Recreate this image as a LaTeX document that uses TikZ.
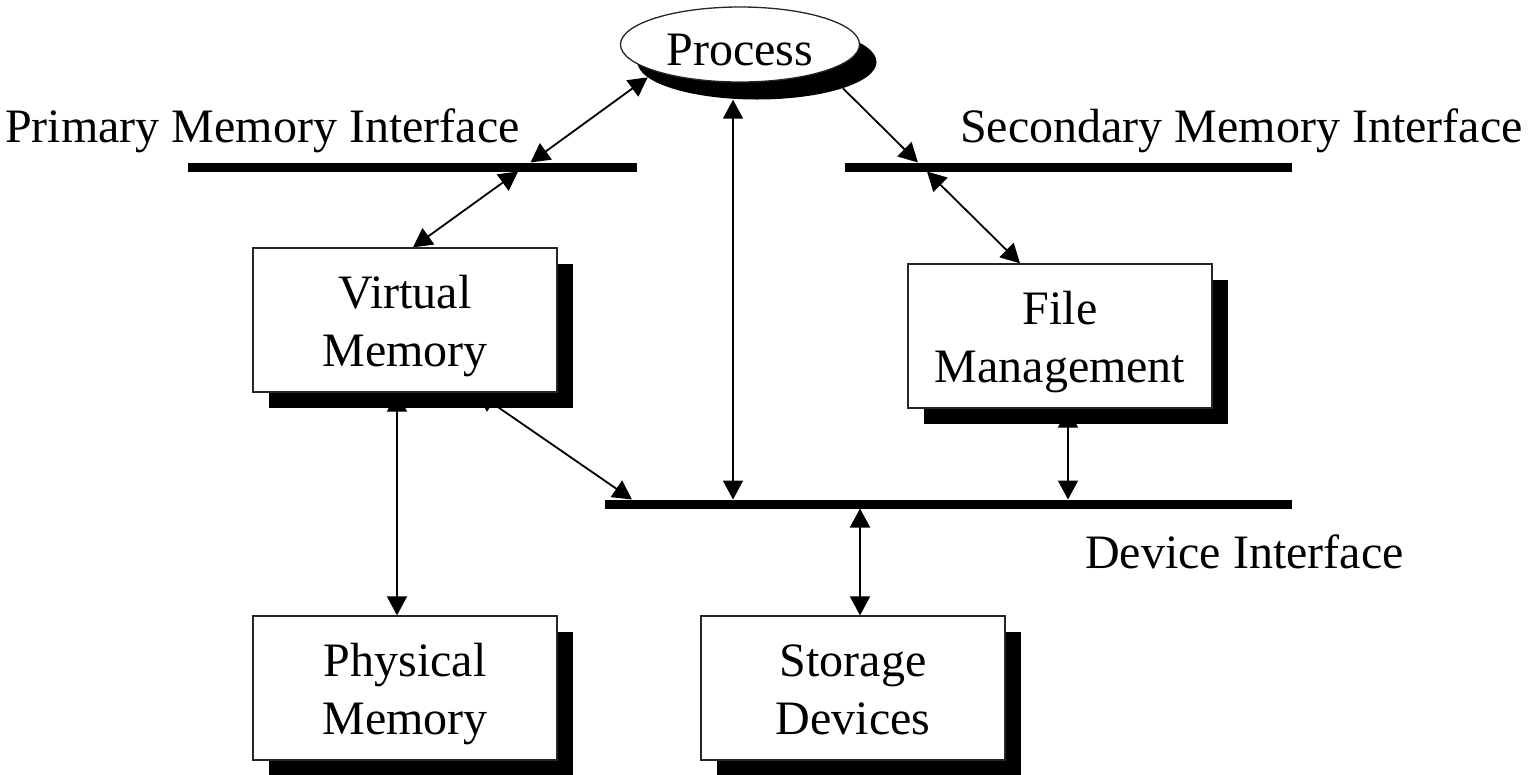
\documentclass[tikz,border=0pt]{standalone}
\usepackage{fontspec}
\setmainfont{Liberation Serif}
\usetikzlibrary{arrows.meta,shapes.geometric,shadows,backgrounds}

\begin{document}
\begin{tikzpicture}[x=1pt,y=-1pt,
  every node/.style={font=\fontsize{48}{57.6}\selectfont, inner sep=0pt},
  box/.style={draw=black!85, line width=1.3pt, fill=white,
    minimum width=304pt, minimum height=144pt, align=center,
    text height=93pt, text depth=0pt,
    drop shadow={shadow xshift=16pt, shadow yshift=-16pt, fill=black, opacity=1}},
  oval/.style={ellipse, draw=black!85, line width=1.3pt, fill=white,
    minimum width=239pt, minimum height=75pt},
  ovalshade/.style={ellipse, fill=black, minimum width=239pt, minimum height=75pt},
  bus/.style={line width=9pt},
  tip/.tip={Triangle[length=19pt,width=20pt]},
  twoway/.style={line width=1.8pt, tip-tip},
  oneway/.style={line width=1.8pt, -tip},
  label/.style={anchor=base west}]

\useasboundingbox (0,0) rectangle (1530,774);

% process oval with its solid shadow
\node[ovalshade] (procsh) at (757,62) {};
\node[oval, text height=41pt, text depth=0pt] (proc) at (740,44.5) {Process};

% component boxes
\node[box] (vm)   at (405,320) {Virtual\\Memory};
\node[box] (fm)   at (1060,336) {File\\Management};
\node[box] (phys) at (405,688) {Physical\\Memory};
\node[box] (sto)  at (853,688) {Storage\\Devices};

% interface bars
\coordinate (pmiL) at (188,167);  \coordinate (pmiR) at (637,167);
\coordinate (smiL) at (845,167);  \coordinate (smiR) at (1292,167);
\coordinate (diL)  at (605,504);  \coordinate (diR)  at (1292,504);
\draw[bus] (pmiL) -- (pmiR);
\draw[bus] (smiL) -- (smiR);
\draw[bus] (diL) -- (diR);

% interface labels
\node[label] (pmitext) at (5,142)    {Primary Memory Interface};
\node[label] (smitext) at (960,142)  {Secondary Memory Interface};
\node[label] (ditext)  at (1085,568) {Device Interface};

% crossing points on the bars
\coordinate (pmiTop) at (530.5,162.5);
\coordinate (pmiBot) at (518.1,171.5);
\coordinate (smiTop) at (917.9,162.5);
\coordinate (smiBot) at (927,171.5);
\coordinate (diProc) at (733,499.5);
\coordinate (diVm)   at (632,499.5);
\coordinate (diFm)   at (1068,499.5);
\coordinate (diSto)  at (860,508.5);

% connectors sit under the shadows
\begin{scope}[on background layer]
  \draw[twoway] (procsh.188) -- (pmiTop);
  \draw[twoway] (pmiBot) -- ([xshift=8pt]vm.north);
  \draw[oneway] (procsh.-17) -- (smiTop);
  \draw[twoway] (smiBot) -- ([xshift=-40pt]fm.north);
  \draw[twoway] ([xshift=-24pt]procsh.south) -- (diProc);
  \draw[twoway] ([xshift=72pt]vm.south) -- (diVm);
  \draw[twoway] ([xshift=-8pt]vm.south) -- ([xshift=-8pt]phys.north);
  \draw[twoway] ([xshift=8pt]fm.south) -- (diFm);
  \draw[twoway] (diSto) -- ([xshift=7pt]sto.north);
\end{scope}
\end{tikzpicture}
\end{document}
